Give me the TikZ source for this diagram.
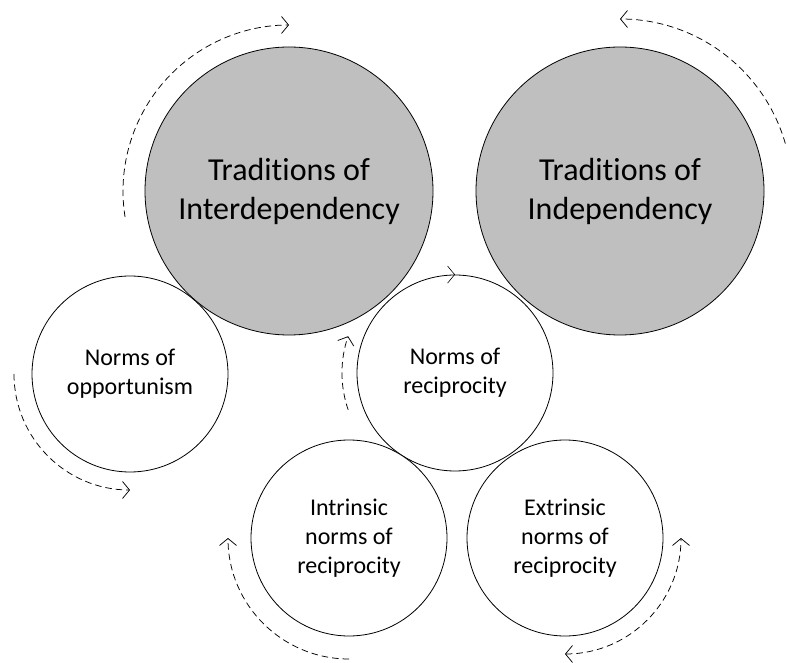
\documentclass[tikz,border=0pt]{standalone}
\usepackage{fontspec}
\setmainfont[Ligatures=NoCommon]{Carlito}
\usetikzlibrary{arrows.meta}
\definecolor{circgray}{RGB}{191,191,191}
\tikzset{
  bigc/.style={circle,draw=black,line width=0.8pt,fill=circgray,minimum size=288pt,inner sep=0pt,align=center,font=\fontsize{32}{39}\selectfont},
  smallc/.style={circle,draw=black,line width=0.8pt,fill=white,minimum size=196pt,inner sep=0pt,align=center,font=\fontsize{24}{29}\selectfont},
  cyc/.style={line width=0.75pt,dash pattern=on 6.5pt off 4pt},
  tip/.style={-{Straight Barb[length=7pt,width=17pt]}},
  btip/.style={{Straight Barb[length=7pt,width=17pt]}-{Straight Barb[length=7pt,width=17pt]}}
}
\begin{document}
\begin{tikzpicture}[x=1pt,y=1pt]
\useasboundingbox (0,0) rectangle (787,662);
\node[bigc] (inter) at (289,471) {Traditions of\\Interdependency};
\node[bigc] (indep) at (620,471) {Traditions of\\Independency};
\node[smallc] (opp) at (130,288) {Norms of\\opportunism};
\node[smallc] (recip) at (455,289) {Norms of\\reciprocity};
\node[smallc] (intr) at (349,124) {Intrinsic\\norms of\\reciprocity};
\node[smallc] (extr) at (565,124) {Extrinsic\\norms of\\reciprocity};
% cycle arcs
\draw[cyc,tip] ([shift={(189:166pt)}]inter.center) arc[start angle=189,end angle=90,radius=166pt];
\draw[cyc,tip] ([shift={(16:172pt)}]indep.center) arc[start angle=16,end angle=90,radius=172pt];
\draw[cyc,tip] ([shift={(180:116pt)}]opp.center) arc[start angle=180,end angle=270,radius=116pt];
\draw[cyc,tip] ([shift={(199:113pt)}]recip.center) arc[start angle=199,end angle=161,radius=113pt];
\draw[cyc,tip] ([shift={(270:121pt)}]intr.center) arc[start angle=270,end angle=180,radius=121pt];
\draw[cyc,btip] ([shift={(270:116pt)}]extr.center) arc[start angle=270,end angle=360,radius=116pt];
\draw[line width=0.6pt,tip] ([xshift=-1pt]recip.north) -- (recip.north);
\end{tikzpicture}
\end{document}
